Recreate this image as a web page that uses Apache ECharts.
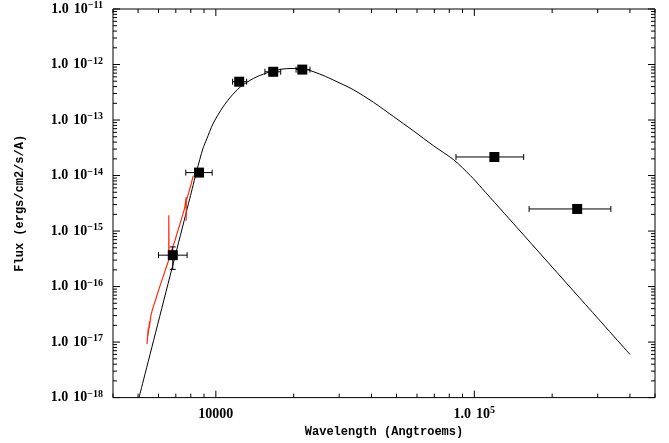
<!DOCTYPE html>
<html>
<head>
<meta charset="utf-8">
<script src="https://cdn.jsdelivr.net/npm/echarts@6/dist/echarts.min.js"></script>
<style>html,body{margin:0;padding:0;background:#fff}#c{width:669px;height:443px}</style>
</head>
<body>
<div id="c"></div>
<script>
// ---- axis ranges and ticks ----
const xMin = 4000, xMax = 500000;
const yMin = 1e-18, yMax = 1e-11;
const xTickValues = [10000, 100000];
const xTickLabels = [['10000', '', ''], ['1.0', '10', '5']];
const yTickValues = [1e-18, 1e-17, 1e-16, 1e-15, 1e-14, 1e-13, 1e-12, 1e-11];
const yTickLabels = [['1.0','10','−18'],['1.0','10','−17'],['1.0','10','−16'],['1.0','10','−15'],['1.0','10','−14'],['1.0','10','−13'],['1.0','10','−12'],['1.0','10','−11']];
const xDecades = [1000, 10000, 100000];
const yDecades = [1e-18, 1e-17, 1e-16, 1e-15, 1e-14, 1e-13, 1e-12];
const minorMultipliers = [2, 3, 4, 5, 6, 7, 8, 9];

// ---- model SED (black curve) ----
const modelWave = [5043, 7930, 8440, 8904, 9229, 9736, 10645, 11640, 12727, 14418, 16194, 18188, 20606, 22470, 25980, 28490, 34060, 40710, 48670, 58170, 69540, 83140, 96500, 107100, 146400, 255300, 400000];
const modelFlux = [1.0e-18, 3.88e-15, 1.23e-14, 3.03e-14, 4.58e-14, 8.49e-14, 1.71e-13, 2.91e-13, 4.31e-13, 6.03e-13, 7.34e-13, 8.31e-13, 8.49e-13, 8.14e-13, 6.37e-13, 5.25e-13, 3.51e-13, 2.09e-13, 1.155e-13, 6.37e-14, 3.43e-14, 1.93e-14, 1.0e-14, 5.86e-15, 1.15e-15, 6.28e-17, 6.0e-18];

// ---- observed spectrum (red) ----
const specWave = [5416, 5475, 5460, 5539, 5523, 5608, 5699, 5802, 5933, 6066, 6233, 6401, 6574, 6574, 6592, 6753, 6937, 7124, 7317, 7516, 7582, 7673, 7673, 7691, 7859, 8035, 8181];
const specFlux = [9.21e-18, 1.78e-17, 1.28e-17, 2.37e-17, 1.78e-17, 3.03e-17, 4.05e-17, 5.18e-17, 7.2e-17, 1.0e-16, 1.45e-16, 2.1e-16, 3.03e-16, 1.93e-15, 3.16e-16, 4.58e-16, 6.63e-16, 1.0e-15, 1.51e-15, 2.28e-15, 2.68e-15, 4.05e-15, 1.53e-15, 3.58e-15, 4.97e-15, 7.2e-15, 1.0e-14];

// ---- photometry (black squares with error bars) ----
const photWave = [6813, 8610, 12310, 16670, 21600, 119540, 250000];
const photFlux = [3.68e-16, 1.13e-14, 4.9e-13, 7.4e-13, 8.1e-13, 2.16e-14, 2.5e-15];
const photWaveLo = [5998, 7651, 11607, 15480, 20430, 84920, 162900];
const photWaveHi = [7742, 9676, 13154, 17820, 23130, 155200, 337400];
const photFluxLo = [2.04e-16, null, null, null, null, null, null];
const photFluxHi = [5.18e-16, null, null, null, null, null, null];

const chart = echarts.init(document.getElementById('c'));

const tickFont = 'Liberation Serif';
const titleFont = 'Liberation Mono';

function richLabel(l) {
  let s = '{n|' + l[0] + '}';
  if (l[1]) s += '{m|' + l[1] + '}';
  if (l[2]) s += '{s|' + l[2] + '}';
  return s;
}
function fmtX(v) {
  for (let i = 0; i < xTickValues.length; i++) {
    if (Math.abs(Math.log10(v) - Math.log10(xTickValues[i])) < 1e-6) return richLabel(xTickLabels[i]);
  }
  return '';
}
function fmtY(v) {
  for (let i = 0; i < yTickValues.length; i++) {
    if (Math.abs(Math.log10(v) - Math.log10(yTickValues[i])) < 1e-6) return richLabel(yTickLabels[i]);
  }
  return '';
}
const richStyle = {
  n: { fontFamily: tickFont, fontSize: 14, fontWeight: 'bold', color: '#000', lineHeight: 17 },
  m: { fontFamily: tickFont, fontSize: 14, fontWeight: 'bold', color: '#000', lineHeight: 17, padding: [0, 0, 0, 5] },
  s: { fontFamily: tickFont, fontSize: 10, fontWeight: 'bold', color: '#000', lineHeight: 10, verticalAlign: 'top' }
};

// tick data
const xTickData = [];
xDecades.forEach(d => {
  xTickData.push([d, yMin, 1]);
  minorMultipliers.forEach(m => xTickData.push([d * m, yMin, 0]));
});
const yTickData = [];
yDecades.forEach(d => {
  yTickData.push([xMin, d, 1]);
  minorMultipliers.forEach(m => yTickData.push([xMin, d * m, 0]));
});
yTickData.push([xMin, yMax, 1]);

const majorLen = 7, minorLen = 4;
function inRangeX(v) { return v >= xMin * 0.9999 && v <= xMax * 1.0001; }
function inRangeY(v) { return v >= yMin * 0.9999 && v <= yMax * 1.0001; }

chart.setOption({
  animation: false,
  backgroundColor: '#fff',
  grid: { left: 113, right: 14, top: 9, bottom: 42, show: true, borderColor: '#000', borderWidth: 1, backgroundColor: 'transparent' },
  xAxis: {
    type: 'log', logBase: 10, min: xMin, max: xMax,
    name: 'Wavelength (Angtroems)', nameLocation: 'middle', nameGap: 26,
    nameTextStyle: { fontFamily: titleFont, fontSize: 12, fontWeight: 'bold', color: '#000' },
    axisLine: { show: false }, axisTick: { show: false }, splitLine: { show: false }, minorTick: { show: false },
    axisLabel: { formatter: fmtX, rich: richStyle, margin: 8, showMinLabel: false, showMaxLabel: false, hideOverlap: false }
  },
  yAxis: {
    type: 'log', logBase: 10, min: yMin, max: yMax,
    name: 'Flux (ergs/cm2/s/A)', nameLocation: 'middle', nameGap: 87, nameRotate: 90,
    nameTextStyle: { fontFamily: titleFont, fontSize: 12, fontWeight: 'bold', color: '#000' },
    axisLine: { show: false }, axisTick: { show: false }, splitLine: { show: false }, minorTick: { show: false },
    axisLabel: { formatter: fmtY, rich: richStyle, margin: 10, hideOverlap: false }
  },
  series: [
    {
      type: 'custom', name: 'xticks', data: xTickData, silent: true, z: 1,
      renderItem: function (params, api) {
        const v = api.value(0);
        if (!inRangeX(v)) return null;
        const len = api.value(2) ? majorLen : minorLen;
        const b = api.coord([v, yMin]);
        const t = api.coord([v, yMax]);
        return { type: 'group', children: [
          { type: 'line', shape: { x1: b[0], y1: b[1], x2: b[0], y2: b[1] - len }, style: { stroke: '#000', lineWidth: 1 } },
          { type: 'line', shape: { x1: t[0], y1: t[1], x2: t[0], y2: t[1] + len }, style: { stroke: '#000', lineWidth: 1 } }
        ]};
      }
    },
    {
      type: 'custom', name: 'yticks', data: yTickData, silent: true, z: 1,
      renderItem: function (params, api) {
        const v = api.value(1);
        if (!inRangeY(v)) return null;
        const len = api.value(2) ? majorLen : minorLen;
        const l = api.coord([xMin, v]);
        const r = api.coord([xMax, v]);
        return { type: 'group', children: [
          { type: 'line', shape: { x1: l[0], y1: l[1], x2: l[0] + len, y2: l[1] }, style: { stroke: '#000', lineWidth: 1 } },
          { type: 'line', shape: { x1: r[0], y1: r[1], x2: r[0] - len, y2: r[1] }, style: { stroke: '#000', lineWidth: 1 } }
        ]};
      }
    },
    {
      type: 'line', name: 'model', data: modelWave.map((w, i) => [w, modelFlux[i]]),
      showSymbol: false, symbol: 'none', smooth: 0.25, clip: true, z: 2,
      lineStyle: { color: '#000', width: 1 }
    },
    {
      type: 'line', name: 'spectrum', data: specWave.map((w, i) => [w, specFlux[i]]),
      showSymbol: false, symbol: 'none', smooth: false, clip: true, z: 3,
      lineStyle: { color: '#ff2a10', width: 1.2 }
    },
    {
      type: 'custom', name: 'errors', data: photWave.map((w, i) => [w, photFlux[i]]), z: 4, silent: true,
      renderItem: function (params, api) {
        const i = params.dataIndex;
        const y = photFlux[i];
        const a = api.coord([photWaveLo[i], y]);
        const b = api.coord([photWaveHi[i], y]);
        const cap = 3;
        const st = { stroke: '#000', lineWidth: 1 };
        const ch = [
          { type: 'line', shape: { x1: a[0], y1: a[1], x2: b[0], y2: b[1] }, style: st },
          { type: 'line', shape: { x1: a[0], y1: a[1] - cap, x2: a[0], y2: a[1] + cap }, style: st },
          { type: 'line', shape: { x1: b[0], y1: b[1] - cap, x2: b[0], y2: b[1] + cap }, style: st }
        ];
        if (photFluxLo[i] != null) {
          const c = api.coord([photWave[i], photFluxLo[i]]);
          const d = api.coord([photWave[i], photFluxHi[i]]);
          ch.push({ type: 'line', shape: { x1: c[0], y1: c[1], x2: d[0], y2: d[1] }, style: st });
          ch.push({ type: 'line', shape: { x1: c[0] - cap, y1: c[1], x2: c[0] + cap, y2: c[1] }, style: st });
          ch.push({ type: 'line', shape: { x1: d[0] - cap, y1: d[1], x2: d[0] + cap, y2: d[1] }, style: st });
        }
        return { type: 'group', children: ch };
      }
    },
    {
      type: 'scatter', name: 'photometry', data: photWave.map((w, i) => [w, photFlux[i]]),
      symbol: 'rect', symbolSize: 10, z: 5,
      itemStyle: { color: '#000', opacity: 1 }
    }
  ]
});
</script>
</body>
</html>
